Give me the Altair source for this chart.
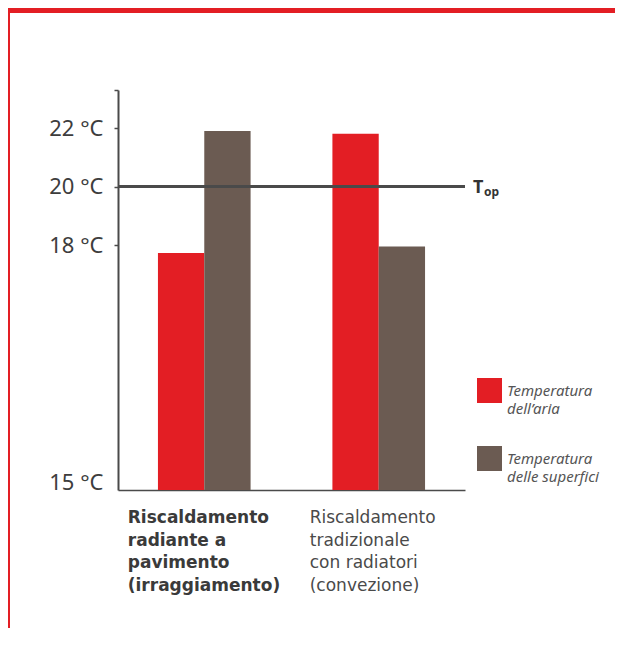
import altair as alt
import pandas as pd

# ---- data ----
categories = ["Riscaldamento radiante a pavimento (irraggiamento)",
              "Riscaldamento tradizionale con radiatori (convezione)"]
series = ["Temperatura dell’aria", "Temperatura delle superfici"]
legend_labels = ["Temperatura\ndell’aria", "Temperatura\ndelle superfici"]
air_temp = [17.9, 21.8]
surface_temp = [21.9, 17.98]
cat_labels = ["Riscaldamento\nradiante a\npavimento\n(irraggiamento)",
              "Riscaldamento\ntradizionale\ncon radiatori\n(convezione)"]
y_ticks = [15, 18, 20, 22, 23.3]
y_min = 14.9
t_op = 20

RED = "#e31e24"
BROWN = "#6b5b52"
AXIS = "#4a4a4a"

rows = []
for i, c in enumerate(categories):
    rows.append({"cat": c, "serie": series[0], "val": air_temp[i]})
    rows.append({"cat": c, "serie": series[1], "val": surface_temp[i]})
df = pd.DataFrame(rows)
lab_df = pd.DataFrame({"cat": categories, "txt": cat_labels})
leg_df = pd.DataFrame({"serie": series, "txt": legend_labels})
top_df = pd.DataFrame({"y": [t_op]})
one = pd.DataFrame({"a": [0]})

W, H = 347, 400
PL, PT = 110, 82
PR, PB = 150, 138

xscale = alt.Scale(domain=categories, paddingInner=0.469, paddingOuter=0.229)
yscale = alt.Scale(domain=[y_min, 18, 23.3], range=[H, 155, 0], zero=False)
cscale = alt.Scale(domain=series, range=[RED, BROWN])
legscale = alt.Scale(type="point", domain=series, range=[300.5, 368.5], padding=0)

bars = alt.Chart(df).mark_bar().encode(
    x=alt.X("cat:N", scale=xscale, sort=categories,
            axis=alt.Axis(labels=False, ticks=False, title=None, domain=True,
                          domainColor=AXIS, domainWidth=1.5)),
    xOffset=alt.XOffset("serie:N", sort=series,
                        scale=alt.Scale(paddingInner=0, paddingOuter=0)),
    y=alt.Y("val:Q", scale=yscale,
            axis=alt.Axis(values=y_ticks, title=None, grid=False,
                          labelExpr="datum.value > 23 ? '' : datum.value + ' °C'",
                          labelFont="Noto Sans", labelFontSize=22,
                          labelColor="#3d3d3d", labelPadding=11,
                          tickSize=4, tickColor=AXIS, tickWidth=1.5,
                          tickOpacity={"condition": {"test": "datum.value < 16", "value": 0}, "value": 1},
                          domainColor=AXIS, domainWidth=2)),
    y2=alt.Y2(datum=y_min),
    color=alt.Color("serie:N", sort=series, scale=cscale, legend=None),
)

rule = alt.Chart(top_df).mark_rule(color=AXIS, strokeWidth=3).encode(
    y=alt.Y("y:Q", scale=yscale, axis=None))

t_big = alt.Chart(top_df).mark_text(text="T", font="Noto Sans", fontWeight="bold",
                                    fontSize=18, color="#333333", align="left",
                                    baseline="alphabetic", dy=6).encode(
    y=alt.Y("y:Q", scale=yscale, axis=None), x=alt.value(W + 8))
t_sub = alt.Chart(top_df).mark_text(text="op", font="Noto Sans", fontWeight="bold",
                                    fontSize=12, color="#333333", align="left",
                                    baseline="alphabetic", dy=9).encode(
    y=alt.Y("y:Q", scale=yscale, axis=None), x=alt.value(W + 19))

lab1 = alt.Chart(lab_df).transform_filter(
    alt.datum.cat == categories[0]).mark_text(
    font="DejaVu Sans", fontWeight="bold", fontSize=17, color="#3a3a3a",
    align="left", baseline="top", lineBreak="\n", lineHeight=22.7, dx=-76.5).encode(
    x=alt.X("cat:N", scale=xscale, sort=categories), y=alt.value(H + 20), text="txt:N")
lab2 = alt.Chart(lab_df).transform_filter(
    alt.datum.cat == categories[1]).mark_text(
    font="DejaVu Sans", fontWeight="normal", fontSize=17, color="#4a4a4a",
    align="left", baseline="top", lineBreak="\n", lineHeight=22.7, dx=-69).encode(
    x=alt.X("cat:N", scale=xscale, sort=categories), y=alt.value(H + 20), text="txt:N")

leg_sym = alt.Chart(leg_df).mark_square(size=625, opacity=1, strokeWidth=0).encode(
    x=alt.value(W + 24.5),
    y=alt.Y("serie:N", scale=legscale, axis=None),
    color=alt.Color("serie:N", sort=series, scale=cscale, legend=None),
)
leg_txt = alt.Chart(leg_df).mark_text(
    font="Noto Sans", fontStyle="italic", fontSize=15, color="#555555",
    align="left", baseline="middle", lineBreak="\n", lineHeight=18).encode(
    x=alt.value(W + 42),
    y=alt.Y("serie:N", scale=legscale, axis=None),
    text="txt:N",
)

frame_top = alt.Chart(one).mark_rule(color=RED, strokeWidth=5).encode(
    x=alt.value(-PL), x2=alt.value(W + PR), y=alt.value(-PT + 2.5))
frame_left = alt.Chart(one).mark_rule(color=RED, strokeWidth=2).encode(
    x=alt.value(-PL + 1), y=alt.value(-PT + 2.5), y2=alt.value(H + PB))

chart = alt.layer(bars, rule, t_big, t_sub, lab1, lab2, leg_sym, leg_txt,
                  frame_top, frame_left).resolve_scale(y="independent").properties(
    width=W, height=H,
    padding={"left": PL, "top": PT, "right": PR, "bottom": PB},
    autosize=alt.AutoSizeParams(type="none"),
    background="white",
).configure_view(stroke=None)

chart.save("out.html", embed_options={"renderer": "svg", "actions": False})
